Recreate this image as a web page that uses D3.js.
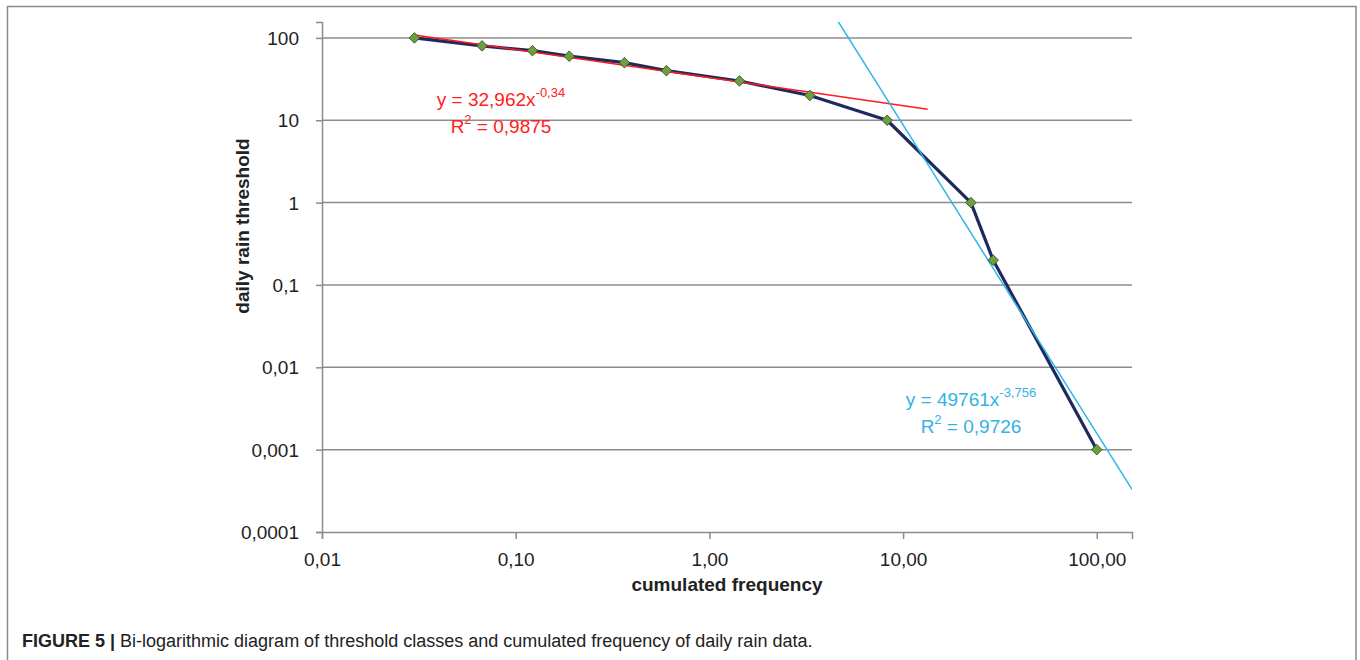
<!DOCTYPE html>
<html>
<head>
<meta charset="utf-8">
<script src="https://cdn.jsdelivr.net/npm/d3@7"></script>
<style>
body { margin: 0; background: #fff; }
svg { display: block; }
.tick text { font-family: "Liberation Sans", Arial, sans-serif; font-size: 19px; fill: #222; }
</style>
</head>
<body>
<svg id="chart" width="1360" height="660"></svg>
<script>
// cumulated frequency (x) and daily rain threshold (y)
const frequency = [0.03, 0.067, 0.122, 0.189, 0.364, 0.6, 1.43, 3.3, 8.27, 22.4, 29.2, 100];
const threshold = [100, 80, 70, 60, 50, 40, 30, 20, 10, 1, 0.2, 0.001];

const xTicks = [0.01, 0.1, 1, 10, 100];
const xTickLabels = ["0,01", "0,10", "1,00", "10,00", "100,00"];
const yTicks = [0.0001, 0.001, 0.01, 0.1, 1, 10, 100];
const yTickLabels = ["0,0001", "0,001", "0,01", "0,1", "1", "10", "100"];

// trend line end points
const redTrend = [[0.03, 108.6], [13.4, 13.6]];
const blueTrend = [[4.6, 161], [152, 0.00033]];

const redEq = ["y = 32,962x", "-0,34", "R", "2", " = 0,9875"];
const blueEq = ["y = 49761x", "-3,756", "R", "2", " = 0,9726"];

const svg = d3.select("#chart");

// figure frame
svg.append("path")
    .attr("d", "M7.5,660 V6.5 H1356 V660")
    .attr("fill", "none")
    .attr("stroke", "#8a8a8a")
    .attr("stroke-width", 1.5);

const x = d3.scaleLog().domain([0.01, 152]).range([322, 1132]);
const y = d3.scaleLog().domain([0.0001, 156]).range([532, 22]);

svg.append("defs").append("clipPath").attr("id", "plot-clip")
    .append("rect")
    .attr("x", x.range()[0]).attr("y", y.range()[1])
    .attr("width", x.range()[1] - x.range()[0])
    .attr("height", y.range()[0] - y.range()[1]);

// gridlines
svg.append("g").selectAll("line")
    .data(yTicks.slice(1))
    .enter().append("line")
    .attr("x1", x.range()[0]).attr("x2", x.range()[1])
    .attr("y1", (d) => y(d)).attr("y2", (d) => y(d))
    .attr("stroke", "#8c8c8c")
    .attr("stroke-width", 1.5);

// axes
const xAxis = svg.append("g")
    .attr("transform", `translate(0,${y.range()[0]})`)
    .call(d3.axisBottom(x)
          .tickValues(xTicks)
          .tickFormat((d, i) => xTickLabels[i])
          .tickSizeOuter(0)
          .tickSize(7)
          .tickPadding(14));

const yAxis = svg.append("g")
    .attr("transform", `translate(${x.range()[0]},0)`)
    .call(d3.axisLeft(y)
          .tickValues(yTicks)
          .tickFormat((d, i) => yTickLabels[i])
          .tickSizeOuter(0)
          .tickSize(6)
          .tickPadding(17));

[xAxis, yAxis].forEach(function(ax) {
    ax.select(".domain").attr("stroke", "#8c8c8c").attr("stroke-width", 1.5);
    ax.selectAll(".tick line").attr("stroke", "#8c8c8c").attr("stroke-width", 1.5);
});
yAxis.selectAll(".tick text").attr("dy", "0.35em");

// axis titles
svg.append("text")
    .attr("x", 727).attr("y", 591)
    .attr("text-anchor", "middle")
    .attr("font-family", "Liberation Sans, Arial, sans-serif")
    .attr("font-weight", "bold")
    .attr("font-size", 19)
    .attr("fill", "#222")
    .text("cumulated frequency");

svg.append("text")
    .attr("transform", "translate(249,226) rotate(-90)")
    .attr("text-anchor", "middle")
    .attr("font-family", "Liberation Sans, Arial, sans-serif")
    .attr("font-weight", "bold")
    .attr("font-size", 19)
    .attr("fill", "#222")
    .text("daily rain threshold");

const line = d3.line()
      .x((d) => x(d[0]))
      .y((d) => y(d[1]));

const plot = svg.append("g").attr("clip-path", "url(#plot-clip)");

// data line
const points = frequency.map((f, i) => [f, threshold[i]]);
plot.append("path")
    .attr("d", line(points))
    .attr("fill", "none")
    .attr("stroke", "#1c2a5e")
    .attr("stroke-width", 3.2)
    .attr("stroke-linejoin", "round");

// trend lines
plot.append("path")
    .attr("d", line(redTrend))
    .attr("fill", "none")
    .attr("stroke", "#ff1a1a")
    .attr("stroke-width", 1.6);

plot.append("path")
    .attr("d", line(blueTrend))
    .attr("fill", "none")
    .attr("stroke", "#30b4ea")
    .attr("stroke-width", 1.5);

// markers
svg.append("g").selectAll("path")
    .data(points)
    .enter().append("path")
    .attr("d", d3.symbol(d3.symbolSquare, 56))
    .attr("transform", (d) => `translate(${x(d[0])},${y(d[1])}) rotate(45)`)
    .attr("fill", "#6f9f3c")
    .attr("stroke", "#2e4a2a")
    .attr("stroke-width", 0.8);

// trend equations
function drawEquation(eq, cx, y1, y2, color) {
    const g = svg.append("g")
	  .attr("font-family", "Liberation Sans, Arial, sans-serif")
	  .attr("fill", color)
	  .attr("text-anchor", "middle");
    const t1 = g.append("text").attr("x", cx).attr("y", y1).attr("font-size", 19);
    t1.append("tspan").text(eq[0]);
    t1.append("tspan").attr("font-size", 13).attr("dy", -9).text(eq[1]);
    const t2 = g.append("text").attr("x", cx).attr("y", y2).attr("font-size", 19);
    t2.append("tspan").text(eq[2]);
    t2.append("tspan").attr("font-size", 13).attr("dy", -9).text(eq[3]);
    t2.append("tspan").attr("dy", 9).text(eq[4]);
}
drawEquation(redEq, 501, 106, 133, "#ff2020");
drawEquation(blueEq, 971, 406, 433, "#33b2e6");

// caption
const caption = svg.append("text")
      .attr("x", 22).attr("y", 647)
      .attr("font-family", "Liberation Sans, Arial, sans-serif")
      .attr("font-size", 18)
      .attr("fill", "#222");
caption.append("tspan").attr("font-weight", "bold").text("FIGURE 5 | ");
caption.append("tspan").text("Bi-logarithmic diagram of threshold classes and cumulated frequency of daily rain data.");
</script>
</body>
</html>
